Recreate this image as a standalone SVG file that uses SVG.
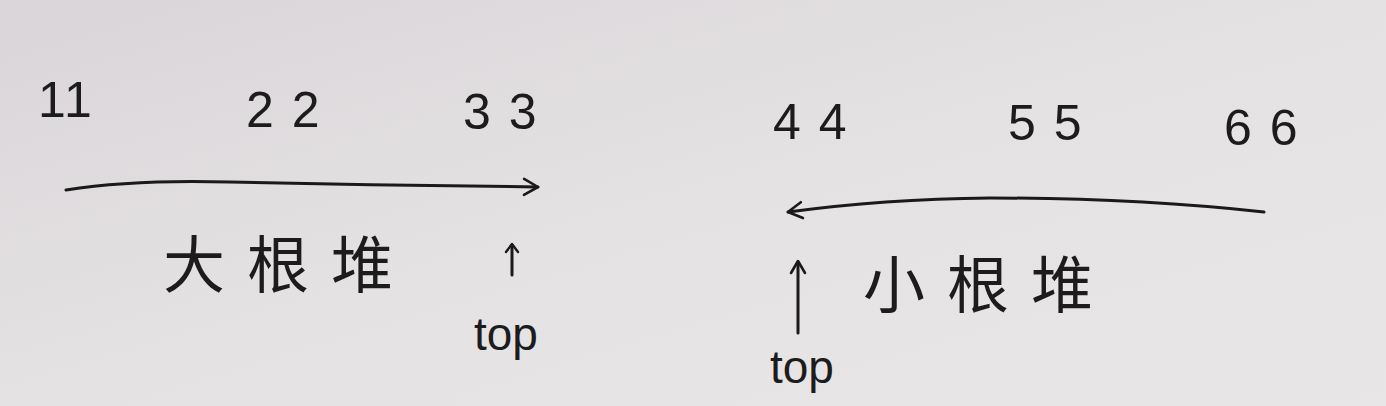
<svg xmlns="http://www.w3.org/2000/svg" width="1386" height="406" viewBox="0 0 1386 406">
<defs>
<linearGradient id="paper" x1="0" y1="0" x2="1" y2="1">
<stop offset="0" stop-color="#d9d5d8"/>
<stop offset="0.5" stop-color="#e5e2e4"/>
<stop offset="1" stop-color="#e9e6e8"/>
</linearGradient>
<marker id="head" viewBox="0 0 20 20" refX="16" refY="10" markerWidth="20" markerHeight="20" markerUnits="userSpaceOnUse" orient="auto">
<path d="M2,2 L16,10 L2,18" fill="none" stroke="#1a1a1a" stroke-width="2.6" stroke-linecap="round" stroke-linejoin="round"/>
</marker>
<marker id="headS" viewBox="0 0 16 16" refX="8" refY="3" markerWidth="16" markerHeight="16" markerUnits="userSpaceOnUse" orient="0">
<path d="M2,10 L8,2 L14,10" fill="none" stroke="#1a1a1a" stroke-width="2.4" stroke-linecap="round" stroke-linejoin="round"/>
</marker>
<marker id="headB" viewBox="0 0 20 20" refX="10" refY="3" markerWidth="20" markerHeight="20" markerUnits="userSpaceOnUse" orient="0">
<path d="M3,14 L10,2 L17,14" fill="none" stroke="#1a1a1a" stroke-width="2.6" stroke-linecap="round" stroke-linejoin="round"/>
</marker>
</defs>
<style>
.num{font-family:"Liberation Sans","DejaVu Sans",sans-serif;font-size:50px;fill:#1c1c1c;letter-spacing:18px}
.cn{font-family:"Liberation Sans","Noto Sans CJK SC",sans-serif;font-size:62px;fill:#1c1c1c;letter-spacing:22px}
.lbl{font-family:"Liberation Sans","DejaVu Sans",sans-serif;font-size:46px;fill:#1c1c1c}
.ln{fill:none;stroke:#1a1a1a;stroke-width:3;stroke-linecap:round}
</style>
<rect width="1386" height="406" fill="url(#paper)"/>
<g id="n11"><text class="num" x="38" y="117" style="letter-spacing:2px">11</text></g>
<g id="n22"><text class="num" x="246" y="127">22</text></g>
<g id="n33"><text class="num" x="463" y="129">33</text></g>
<g id="n44"><text class="num" x="773" y="139">44</text></g>
<g id="n55"><text class="num" x="1008" y="140">55</text></g>
<g id="n66"><text class="num" x="1224" y="145">66</text></g>
<g id="bigheap"><text class="cn" x="163" y="288">大根堆</text></g>
<g id="top1"><text class="lbl" x="474" y="350">top</text></g>
<g id="smallheap"><text class="cn" x="863" y="308">小根堆</text></g>
<g id="top2"><text class="lbl" x="770" y="383">top</text></g>
<g id="connectors">
<path class="ln" d="M66,190 C110,183 160,180 230,182 C330,184 440,186 538,187" marker-end="url(#head)"/>
<path class="ln" d="M1264,212 C1180,203 1080,198 990,198 C900,199 840,205 788,212" marker-end="url(#head)"/>
<path class="ln" d="M512,275 L512,245" marker-end="url(#headS)"/>
<path class="ln" d="M798,333 L798,262" marker-end="url(#headB)"/>
</g>
</svg>
